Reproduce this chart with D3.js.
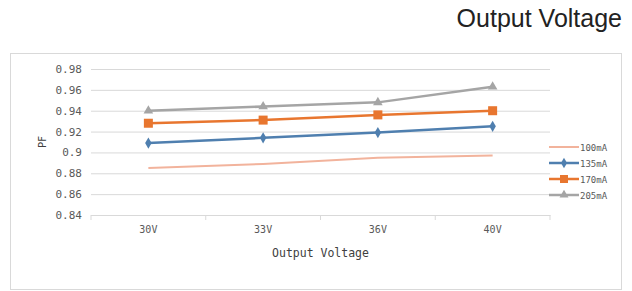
<!DOCTYPE html>
<html>
<head>
<meta charset="utf-8">
<script src="https://cdnjs.cloudflare.com/ajax/libs/d3/7.8.5/d3.min.js"></script>
<style>
    body { margin: 0; background: #fff; }
    .tick text { fill: #595959; font-family: "DejaVu Sans Mono", monospace; }
</style>
</head>
<body>
<div id="chart"></div>
<script>
var categories = ["30V", "33V", "36V", "40V"];
var seriesNames = ["100mA", "135mA", "170mA", "205mA"];
var pf100 = [0.885, 0.889, 0.895, 0.897];
var pf135 = [0.909, 0.914, 0.919, 0.925];
var pf170 = [0.928, 0.931, 0.936, 0.940];
var pf205 = [0.940, 0.944, 0.948, 0.963];
var yTicks = [0.84, 0.86, 0.88, 0.9, 0.92, 0.94, 0.96, 0.98];

var w = 632;
var h = 291;

var series = [
    { name: seriesNames[0], values: pf100, color: "#f2b39c", width: 2, marker: null },
    { name: seriesNames[1], values: pf135, color: "#4f7faf", width: 2.5, marker: "diamond" },
    { name: seriesNames[2], values: pf170, color: "#e8762f", width: 2.5, marker: "square" },
    { name: seriesNames[3], values: pf205, color: "#a5a5a5", width: 2.5, marker: "triangle" }
];

var svg = d3.select("#chart")
    .append("svg")
    .attr("width", w)
    .attr("height", h);

// Title top right
svg.append("text")
    .text("Output Voltage")
    .attr("x", 622)
    .attr("y", 27)
    .attr("text-anchor", "end")
    .style("font-family", "Liberation Sans, Arial, sans-serif")
    .style("font-size", "25px")
    .style("fill", "#222");

// Chart frame
svg.append("rect")
    .attr("x", 10.5)
    .attr("y", 53.5)
    .attr("width", 611)
    .attr("height", 236)
    .attr("fill", "#fff")
    .attr("stroke", "#d9d9d9");

var plotLeft = 91, plotRight = 550, plotTop = 69, plotBottom = 215;

var xScale = d3.scaleBand()
    .domain(categories)
    .range([plotLeft, plotRight]);

var yScale = d3.scaleLinear()
    .domain([0.84, 0.98])
    .range([plotBottom, plotTop]);

// Gridlines + y labels
var yAxis = svg.append("g")
    .attr("transform", "translate(" + plotLeft + ",0)")
    .call(d3.axisLeft(yScale)
        .tickValues(yTicks)
        .tickSize(-(plotRight - plotLeft))
        .tickPadding(9)
        .tickFormat(function(d) { return String(+d.toFixed(2)); }));
yAxis.select(".domain").remove();
yAxis.selectAll(".tick line").attr("stroke", "#d9d9d9");
yAxis.selectAll(".tick text").style("font-size", "11px");

// x axis
var xAxis = svg.append("g")
    .attr("transform", "translate(0," + plotBottom + ")")
    .call(d3.axisBottom(xScale).tickSize(0).tickPadding(11));
xAxis.select(".domain").attr("stroke", "#d9d9d9");
xAxis.selectAll(".tick text").style("font-size", "10px");

// tick marks at band boundaries
svg.append("g")
    .selectAll("line")
    .data(d3.range(categories.length + 1))
    .enter()
    .append("line")
    .attr("x1", function(i) { return plotLeft + i * xScale.step(); })
    .attr("x2", function(i) { return plotLeft + i * xScale.step(); })
    .attr("y1", plotBottom)
    .attr("y2", plotBottom + 5)
    .attr("stroke", "#d9d9d9");

// Axis labels
svg.append("text")
    .text("Output Voltage")
    .attr("x", (plotLeft + plotRight) / 2)
    .attr("y", 257)
    .attr("text-anchor", "middle")
    .style("font-family", "DejaVu Sans Mono, monospace")
    .style("font-size", "11.5px")
    .style("fill", "#404040");

svg.append("text")
    .text("PF")
    .attr("transform", "rotate(-90)")
    .attr("x", -142)
    .attr("y", 46)
    .attr("text-anchor", "middle")
    .style("font-family", "DejaVu Sans, sans-serif")
    .style("font-size", "10px")
    .style("fill", "#404040");

var line = d3.line()
    .x(function(d, i) { return xScale(categories[i]) + xScale.bandwidth() / 2; })
    .y(function(d) { return yScale(d); });

function drawMarker(g, type, color, x, y, s) {
    if (type === "diamond") {
        g.append("path")
            .attr("d", d3.symbol(d3.symbolDiamond, s * 4.5)())
            .attr("transform", "translate(" + x + "," + y + ")")
            .attr("fill", color);
    } else if (type === "square") {
        g.append("rect")
            .attr("x", x - s / 2).attr("y", y - s / 2)
            .attr("width", s).attr("height", s)
            .attr("fill", color);
    } else if (type === "triangle") {
        g.append("path")
            .attr("d", d3.symbol(d3.symbolTriangle, s * 5)())
            .attr("transform", "translate(" + x + "," + y + ")")
            .attr("fill", color);
    }
}

series.forEach(function(s) {
    svg.append("path")
        .datum(s.values)
        .attr("d", line)
        .attr("fill", "none")
        .attr("stroke", s.color)
        .attr("stroke-width", s.width);

    var g = svg.append("g");
    s.values.forEach(function(v, i) {
        var size = s.marker === "square" ? 9 : 8;
        drawMarker(g, s.marker, s.color, xScale(categories[i]) + xScale.bandwidth() / 2, yScale(v), size);
    });
});

// Legend
var legendY = [147, 163, 179, 195];
series.forEach(function(s, i) {
    var g = svg.append("g");
    g.append("line")
        .attr("x1", 549).attr("x2", 579)
        .attr("y1", legendY[i]).attr("y2", legendY[i])
        .attr("stroke", s.color)
        .attr("stroke-width", s.width);
    drawMarker(g, s.marker, s.color, 564, legendY[i], s.marker === "square" ? 8 : 7);
    g.append("text")
        .text(s.name)
        .attr("x", 580)
        .attr("y", legendY[i] + 3.5)
        .style("font-family", "DejaVu Sans Mono, monospace")
        .style("font-size", "9px")
        .style("fill", "#595959");
});
</script>
</body>
</html>
